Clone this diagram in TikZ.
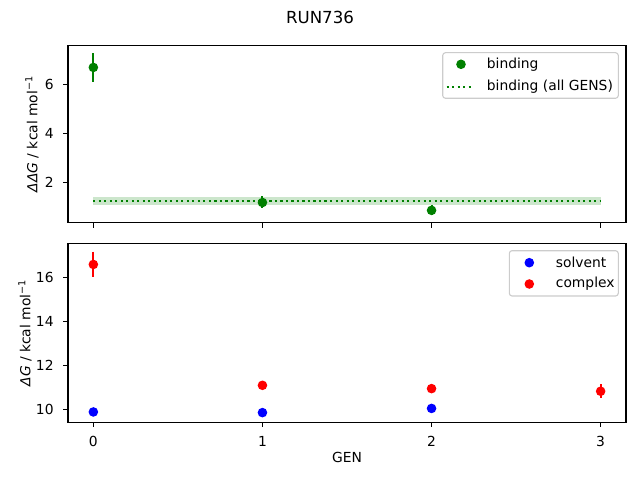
\documentclass[tikz,border=0pt]{standalone}
\usepackage{fontspec}
\setmainfont{DejaVu Sans}
\usetikzlibrary{positioning}
\definecolor{mplgreen}{HTML}{008000}
\definecolor{mplblue}{HTML}{0000FF}
\definecolor{mplred}{HTML}{FF0000}
\definecolor{bandgreen}{HTML}{CCE6CC}
\definecolor{legendedge}{HTML}{CCCCCC}

\begin{document}
\begin{tikzpicture}[x=0.01in, y=-0.01in, font=\fontsize{10}{12}\selectfont,
  dot/.style={shape=circle, inner sep=0pt, minimum size=0.096in},
  errbar/.style={line width=1.5pt},
  frame/.style={line width=0.8pt},
  tickmark/.style={line width=0.8pt},
  legendbox/.style={draw=legendedge, fill=white, rounded corners=2pt, line width=0.8pt},
  dotline/.style={mplgreen, line width=1.5pt, dash pattern=on 1.5pt off 2.475pt}]
\useasboundingbox (0,0) rectangle (640,480);
\node (title) at (320,17) {\fontsize{12}{14}\selectfont RUN736};

\begin{scope}[xshift=0.933in, yshift=-2.313in, x=1.69in, y=0.245in]
\fill[bandgreen] (0,1.07) rectangle (3,1.39);
\coordinate (la) at (0,1.23);
\coordinate (lb) at (3,1.23);
\draw[dotline] (la) -- (lb);
\coordinate (e0a) at (0,7.27); \coordinate (e0b) at (0,6.11);
\coordinate (e1a) at (1,1.44); \coordinate (e1b) at (1,0.96);
\coordinate (e2a) at (2,1.08); \coordinate (e2b) at (2,0.66);
\path [errbar, draw=mplgreen] (e0a) edge (e0b);
\path [errbar, draw=mplgreen] (e1a) edge (e1b);
\path [errbar, draw=mplgreen] (e2a) edge (e2b);
\node[dot, fill=mplgreen] (b0) at (0,6.69) {};
\node[dot, fill=mplgreen] (b1) at (1,1.18) {};
\node[dot, fill=mplgreen] (b2) at (2,0.86) {};
\draw[frame] (-0.15,0.35) rectangle (3.15,7.60);
\draw[tickmark] (-0.15,2) -- ++(-0.049in,0pt);
\draw[tickmark] (-0.15,4) -- ++(-0.049in,0pt);
\draw[tickmark] (-0.15,6) -- ++(-0.049in,0pt);
\node[anchor=east, xshift=-0.095in] (yt2) at (-0.15,2) {2};
\node[anchor=east, xshift=-0.095in] (yt4) at (-0.15,4) {4};
\node[anchor=east, xshift=-0.095in] (yt6) at (-0.15,6) {6};
\draw[tickmark] (0,0.35) -- ++(0pt,-0.049in);
\draw[tickmark] (1,0.35) -- ++(0pt,-0.049in);
\draw[tickmark] (2,0.35) -- ++(0pt,-0.049in);
\draw[tickmark] (3,0.35) -- ++(0pt,-0.049in);
\end{scope}
\node[rotate=90] (ylabtop) at (32,134) {\textit{ΔΔG} / kcal mol\textsuperscript{−1}};

\draw[legendbox] (442.7,52.7) rectangle (618.3,98.3);
\node[dot, fill=mplgreen] (legb) at (461,64.3) {};
\node[anchor=west] (legbt) at (482,64.3) {binding};
\coordinate (legla) at (446.7,86.7);
\coordinate (leglb) at (470.7,86.7);
\draw[dotline] (legla) -- (leglb);
\node[anchor=west] (leglt) at (482,86.7) {binding (all GENS)};

\begin{scope}[xshift=0.933in, yshift=-6.293in, x=1.69in, y=0.22in]
\coordinate (c0a) at (0,17.17); \coordinate (c0b) at (0,16.03);
\coordinate (c1a) at (1,11.28); \coordinate (c1b) at (1,10.92);
\coordinate (c2a) at (2,11.05); \coordinate (c2b) at (2,10.85);
\coordinate (c3a) at (3,11.15); \coordinate (c3b) at (3,10.51);
\path [errbar, draw=mplred] (c0a) edge (c0b);
\path [errbar, draw=mplred] (c1a) edge (c1b);
\path [errbar, draw=mplred] (c2a) edge (c2b);
\path [errbar, draw=mplred] (c3a) edge (c3b);
\node[dot, fill=mplblue] (s0) at (0,9.89) {};
\node[dot, fill=mplblue] (s1) at (1,9.86) {};
\node[dot, fill=mplblue] (s2) at (2,10.05) {};
\node[dot, fill=mplred] (c0) at (0,16.59) {};
\node[dot, fill=mplred] (c1) at (1,11.10) {};
\node[dot, fill=mplred] (c2) at (2,10.95) {};
\node[dot, fill=mplred] (c3) at (3,10.83) {};
\draw[frame] (-0.15,9.41) rectangle (3.15,17.55);
\draw[tickmark] (-0.15,10) -- ++(-0.049in,0pt);
\draw[tickmark] (-0.15,12) -- ++(-0.049in,0pt);
\draw[tickmark] (-0.15,14) -- ++(-0.049in,0pt);
\draw[tickmark] (-0.15,16) -- ++(-0.049in,0pt);
\node[anchor=east, xshift=-0.095in] (yb10) at (-0.15,10) {10};
\node[anchor=east, xshift=-0.095in] (yb12) at (-0.15,12) {12};
\node[anchor=east, xshift=-0.095in] (yb14) at (-0.15,14) {14};
\node[anchor=east, xshift=-0.095in] (yb16) at (-0.15,16) {16};
\draw[tickmark] (0,9.41) -- ++(0pt,-0.049in);
\draw[tickmark] (1,9.41) -- ++(0pt,-0.049in);
\draw[tickmark] (2,9.41) -- ++(0pt,-0.049in);
\draw[tickmark] (3,9.41) -- ++(0pt,-0.049in);
\node[anchor=north, yshift=-0.085in] (xb0) at (0,9.41) {0};
\node[anchor=north, yshift=-0.085in] (xb1) at (1,9.41) {1};
\node[anchor=north, yshift=-0.085in] (xb2) at (2,9.41) {2};
\node[anchor=north, yshift=-0.085in] (xb3) at (3,9.41) {3};
\end{scope}
\node[rotate=90] (ylabbot) at (25,333) {\textit{ΔG} / kcal mol\textsuperscript{−1}};
\node (xlab) at (347,457) {GEN};

\draw[legendbox] (509.3,250.7) rectangle (618.3,296);
\node[dot, fill=mplblue] (legs) at (529.3,262.7) {};
\node[anchor=west] (legst) at (551,262.7) {solvent};
\node[dot, fill=mplred] (legc) at (529.3,284) {};
\node[anchor=west] (legct) at (551,284) {complex};
\end{tikzpicture}
\end{document}
